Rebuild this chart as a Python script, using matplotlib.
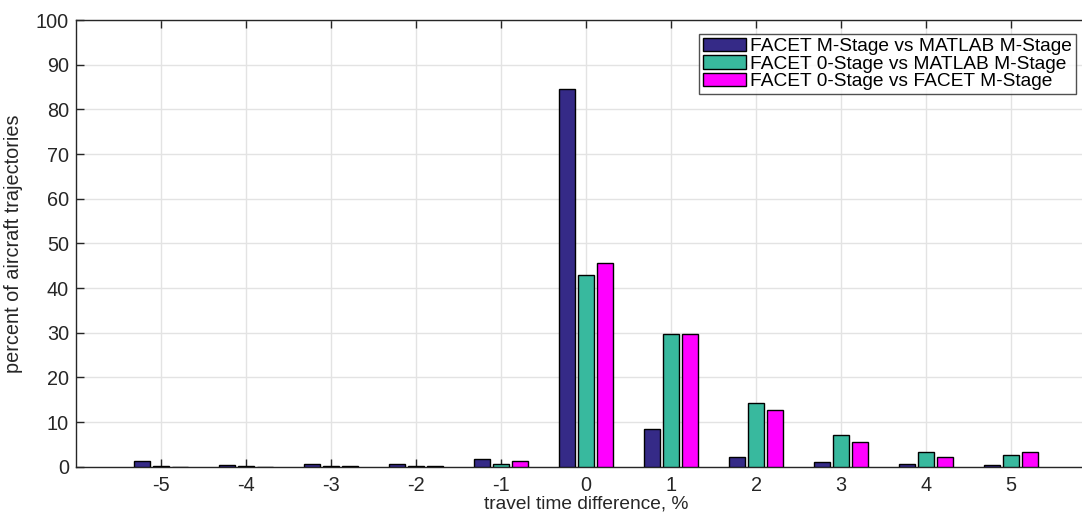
import numpy as np
import matplotlib
matplotlib.use("Agg")
import matplotlib.pyplot as plt

plt.rcParams['font.family'] = ['Liberation Sans', 'DejaVu Sans']

# travel time difference bins, %
bins = [-5, -4, -3, -2, -1, 0, 1, 2, 3, 4, 5]
tick_labels = ['-5', '-4', '-3', '-2', '-1', '0', '1', '2', '3', '4', '5']

# percent of aircraft trajectories
m_vs_matlab = [1.3, 0.3, 0.5, 0.5, 1.7, 84.6, 8.4, 2.1, 1.05, 0.5, 0.3]
zero_vs_matlab = [0.1, 0.1, 0.15, 0.2, 0.6, 42.9, 29.8, 14.3, 7.2, 3.4, 2.7]
zero_vs_m = [0.0, 0.0, 0.05, 0.1, 1.3, 45.5, 29.7, 12.8, 5.6, 2.2, 3.4]

names = ['FACET M-Stage vs MATLAB M-Stage',
         'FACET 0-Stage vs MATLAB M-Stage',
         'FACET 0-Stage vs FACET M-Stage']
colors = ['#352A87', '#38B99E', '#FF00FF']

fig = plt.figure(figsize=(10.82, 5.15), dpi=100)
ax = fig.add_axes([76/1082, 48.3/515, 1020/1082, 446.7/515])

x = np.array(bins, dtype=float)
w = 0.19
offs = [-0.224, 0.0, 0.224]
series = [m_vs_matlab, zero_vs_matlab, zero_vs_m]
for s, o, c, n in zip(series, offs, colors, names):
    ax.bar(x + o, s, width=w, color=c, edgecolor='black', linewidth=1.0,
           label=n, zorder=3)

ax.set_xlim(-6, 6)
ax.set_ylim(0, 100)
ax.set_xticks(bins)
ax.set_xticklabels(tick_labels)
ax.set_yticks(np.arange(0, 101, 10))
ax.grid(True, color='#E3E3E3', linewidth=1.0, zorder=0)
ax.set_axisbelow(True)
ax.tick_params(direction='in', length=6, width=1, labelsize=14.3,
               colors='#262626', top=True, right=True)
ax.tick_params(axis='x', pad=7)
ax.tick_params(axis='y', pad=5)
for sp in ax.spines.values():
    sp.set_color('#262626')
    sp.set_linewidth(1)

ax.set_xlabel('travel time difference, %', fontsize=13.8, color='#262626', labelpad=0)
ax.set_ylabel('percent of aircraft trajectories', fontsize=14.3, color='#262626', labelpad=9)

leg = ax.legend(loc='upper left', bbox_to_anchor=(623/1020, 0.969), fontsize=13.8,
                frameon=True, fancybox=False, edgecolor='#262626',
                handlelength=2.25, handleheight=0.7, handletextpad=0.2,
                labelspacing=0.0, borderpad=0.2, borderaxespad=0)
leg.get_frame().set_linewidth(1)

fig.savefig('out.png', dpi=100)
